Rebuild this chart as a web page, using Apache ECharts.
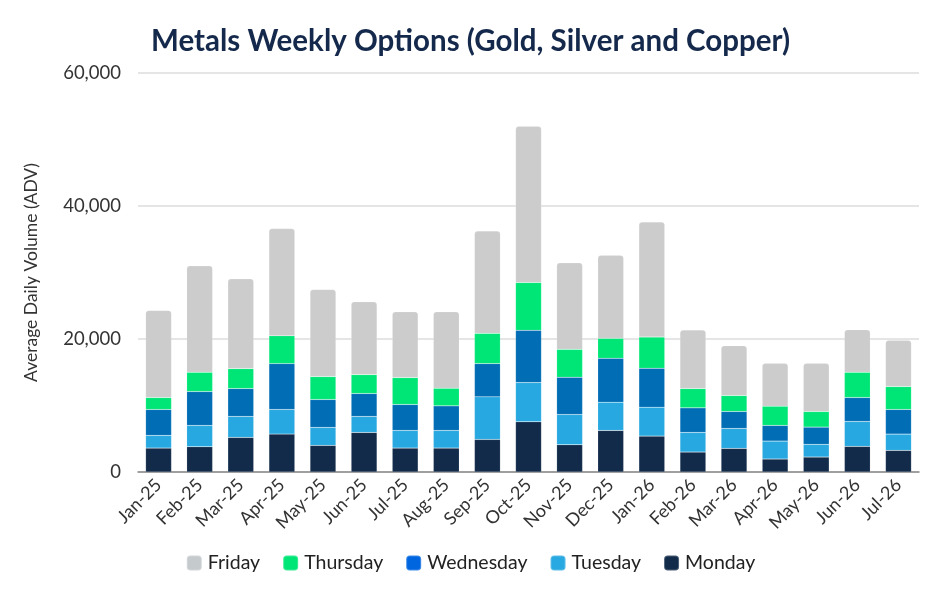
<!DOCTYPE html>
<html>
<head>
<meta charset="utf-8">
<script src="https://cdn.jsdelivr.net/npm/echarts@6/dist/echarts.min.js"></script>
<style>html,body{margin:0;padding:0;background:#fff}#c{width:941px;height:601px}</style>
</head>
<body>
<div id="c"></div>
<script>
const categories = ['Jan-25','Feb-25','Mar-25','Apr-25','May-25','Jun-25','Jul-25','Aug-25','Sep-25','Oct-25','Nov-25','Dec-25','Jan-26','Feb-26','Mar-26','Apr-26','May-26','Jun-26','Jul-26'];
const monday    = [3600,3800,5200,5700,4000,5950,3600,3600,4900,7550,4100,6250,5400,3000,3550,1950,2250,3850,3250];
const tuesday   = [1900,3200,3150,3700,2700,2400,2650,2650,6400,5900,4550,4250,4350,2950,3000,2700,1900,3750,2450];
const wednesday = [3900,5100,4200,6900,4200,3450,3900,3700,5000,7850,5600,6600,5850,3700,2550,2350,2600,3600,3700];
const thursday  = [1800,2900,3000,4200,3450,2850,4050,2650,4550,7200,4200,3000,4700,2900,2400,2900,2350,3800,3450];
const friday    = [13100,16000,13500,16100,13100,10950,9900,11500,15400,23500,13000,12500,17300,8800,7500,6450,7250,6400,6950];
const yTicks = [0, 20000, 40000, 60000];

const font = 'Lato, "Noto Sans", sans-serif';
const chart = echarts.init(document.getElementById('c'));
function s(name, data, color, top) {
  return {
    name: name, type: 'bar', stack: 'total', data: data, barWidth: '63%',
    itemStyle: { color: color, borderRadius: top ? [3,3,0,0] : 0, borderColor: 'rgba(255,255,255,0.25)', borderWidth: 0.5 },
    emphasis: { disabled: true }
  };
}
chart.setOption({
  animation: false,
  title: {
    text: 'Metals Weekly Options (Gold, Silver and Copper)',
    left: 'center', top: 21,
    textStyle: { fontFamily: font, fontSize: 29.5, fontWeight: 'bold', color: '#14294b' }
  },
  grid: { left: 138, right: 22, top: 73, bottom: 129 },
  legend: {
    bottom: 23, left: 'center', itemGap: 22, itemWidth: 15, itemHeight: 15,
    icon: 'roundRect',
    textStyle: { fontFamily: font, fontSize: 19.5, color: '#222', padding: [0,0,0,1] },
    data: [
      { name: 'Friday', itemStyle: { color: '#c5cacd' } },
      { name: 'Thursday', itemStyle: { color: '#00e676' } },
      { name: 'Wednesday', itemStyle: { color: '#0066e0' } },
      { name: 'Tuesday', itemStyle: { color: '#29a9e1' } },
      { name: 'Monday', itemStyle: { color: '#122b4a' } }
    ]
  },
  xAxis: {
    type: 'category', data: categories,
    axisLine: { lineStyle: { color: '#888', width: 1.5 } },
    axisTick: { show: false },
    axisLabel: { rotate: 45, interval: 0, fontFamily: font, fontSize: 18, color: '#333', margin: 10 }
  },
  yAxis: {
    type: 'value', min: yTicks[0], max: yTicks[yTicks.length-1], interval: 20000,
    name: 'Average Daily Volume (ADV)', nameLocation: 'middle', nameGap: 98,
    nameTextStyle: { fontFamily: font, fontSize: 17.5, color: '#333' },
    axisLine: { show: false }, axisTick: { show: false },
    splitLine: { lineStyle: { color: '#dddddd', width: 1.5 } },
    axisLabel: { fontFamily: font, fontSize: 18.5, color: '#333', margin: 17,
      formatter: v => v.toLocaleString('en-US') }
  },
  series: [
    s('Monday', monday, '#122b4a'),
    s('Tuesday', tuesday, '#27a8e0'),
    s('Wednesday', wednesday, '#006db5'),
    s('Thursday', thursday, '#00e676'),
    s('Friday', friday, '#cccccc', true)
  ]
});
</script>
</body>
</html>
